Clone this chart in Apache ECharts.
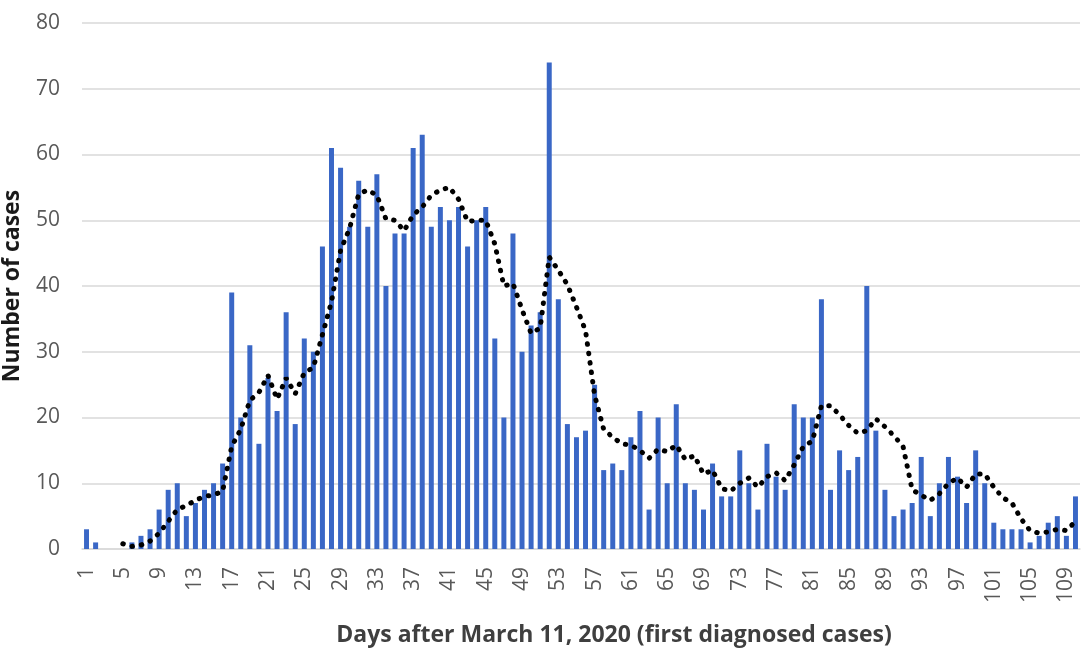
<!DOCTYPE html>
<html>
<head>
<meta charset="utf-8">
<script src="https://cdn.jsdelivr.net/npm/echarts@6/dist/echarts.min.js"></script>
<style>
html,body{margin:0;padding:0;background:#fff;}
#chart{width:1081px;height:660px;}
</style>
</head>
<body>
<div id="chart"></div>
<script>
// Days after March 11, 2020
const days = ['1','2','3','4','5','6','7','8','9','10','11','12','13','14','15','16','17','18','19','20',
'21','22','23','24','25','26','27','28','29','30','31','32','33','34','35','36','37','38','39','40',
'41','42','43','44','45','46','47','48','49','50','51','52','53','54','55','56','57','58','59','60',
'61','62','63','64','65','66','67','68','69','70','71','72','73','74','75','76','77','78','79','80',
'81','82','83','84','85','86','87','88','89','90','91','92','93','94','95','96','97','98','99','100',
'101','102','103','104','105','106','107','108','109','110'];

// Daily number of cases
const cases = [3,1,0,0,0,1,2,3,6,9, 10,5,7,9,10,13,39,20,31,16,
26,21,36,19,32,30,46,61,58,49, 56,49,57,40,48,48,61,63,49,52,
50,52,46,50,52,32,20,48,30,34, 36,74,38,19,17,18,25,12,13,12,
17,21,6,20,10,22,10,9,6,13, 8,8,15,10,6,16,11,9,22,20,
20,38,9,15,12,14,40,18,9,5, 6,7,14,5,10,14,11,7,15,10,
4,3,3,3,1,2,4,5,2,8];

// Dotted trend line (5-day moving average)
const trend = [null,null,null,null,0.8,0.4,0.6,1.2,2.4,4.2, 6.0,6.6,7.4,8.0,8.2,8.8,15.6,18.2,22.6,23.8,
26.4,22.8,26.0,23.6,26.8,27.6,32.6,37.6,45.4,48.8, 54.0,54.6,53.8,50.2,50.0,48.4,50.8,52.0,53.8,54.6,
55.0,53.2,49.8,50.0,50.0,46.4,40.0,40.4,36.4,32.8, 33.6,44.4,42.4,40.2,36.8,33.2,23.4,18.2,17.0,16.0,
15.8,15.0,13.8,15.2,14.8,15.8,13.6,14.2,11.4,12.0, 9.2,8.8,10.0,10.8,9.4,11.0,11.6,10.4,12.8,15.6,
16.4,21.8,21.8,20.4,18.8,17.6,18.0,19.8,18.6,17.2, 15.6,9.0,8.2,7.4,8.4,10.0,10.8,9.4,11.4,11.4,
9.4,7.8,7.0,4.6,2.8,2.4,2.6,3.0,2.8,4.2];

const yTicks = {min: 0, max: 80, interval: 10};

const chart = echarts.init(document.getElementById('chart'), null, {renderer: 'canvas'});
chart.setOption({
  animation: false,
  backgroundColor: '#ffffff',
  textStyle: {fontFamily: '"Open Sans", sans-serif'},
  grid: {left: 82, right: 1, top: 23, bottom: 111, containLabel: false, outerBoundsMode: 'none'},
  title: {
    text: 'Days after March 11, 2020 (first diagnosed cases)',
    left: 609, top: 619, textAlign: 'center',
    textStyle: {fontFamily: '"Open Sans", sans-serif', fontWeight: 'bold', fontSize: 23, color: '#3f3f3f'}
  },
  xAxis: {
    type: 'category',
    data: days,
    boundaryGap: true,
    axisLine: {show: true, lineStyle: {color: '#d9d9d9', width: 1.5}},
    axisTick: {show: false},
    axisLabel: {interval: 3, rotate: 90, margin: 18, fontSize: 21, color: '#595959', fontFamily: '"Open Sans", sans-serif'},
    splitLine: {show: false}
  },
  yAxis: {
    type: 'value',
    min: yTicks.min, max: yTicks.max, interval: yTicks.interval,
    name: 'Number of cases',
    nameLocation: 'middle',
    nameRotate: 90,
    nameGap: 58,
    nameTextStyle: {fontFamily: '"Open Sans", sans-serif', fontWeight: 'bold', fontSize: 23, color: '#1a1a1a'},
    axisLine: {show: false},
    axisTick: {show: false},
    axisLabel: {margin: 22, fontSize: 21, color: '#595959', fontFamily: '"Open Sans", sans-serif'},
    splitLine: {show: true, lineStyle: {color: '#d9d9d9', width: 1.5}}
  },
  series: [
    {
      name: 'Cases',
      type: 'bar',
      data: cases,
      barWidth: '55%',
      itemStyle: {color: '#3a67c6'},
      z: 2
    },
    {
      name: 'Trend',
      type: 'line',
      data: trend,
      symbol: 'none',
      smooth: false,
      connectNulls: false,
      lineStyle: {color: '#000000', width: 5, type: [0.5, 9], cap: 'round'},
      z: 3
    }
  ]
});
</script>
</body>
</html>
